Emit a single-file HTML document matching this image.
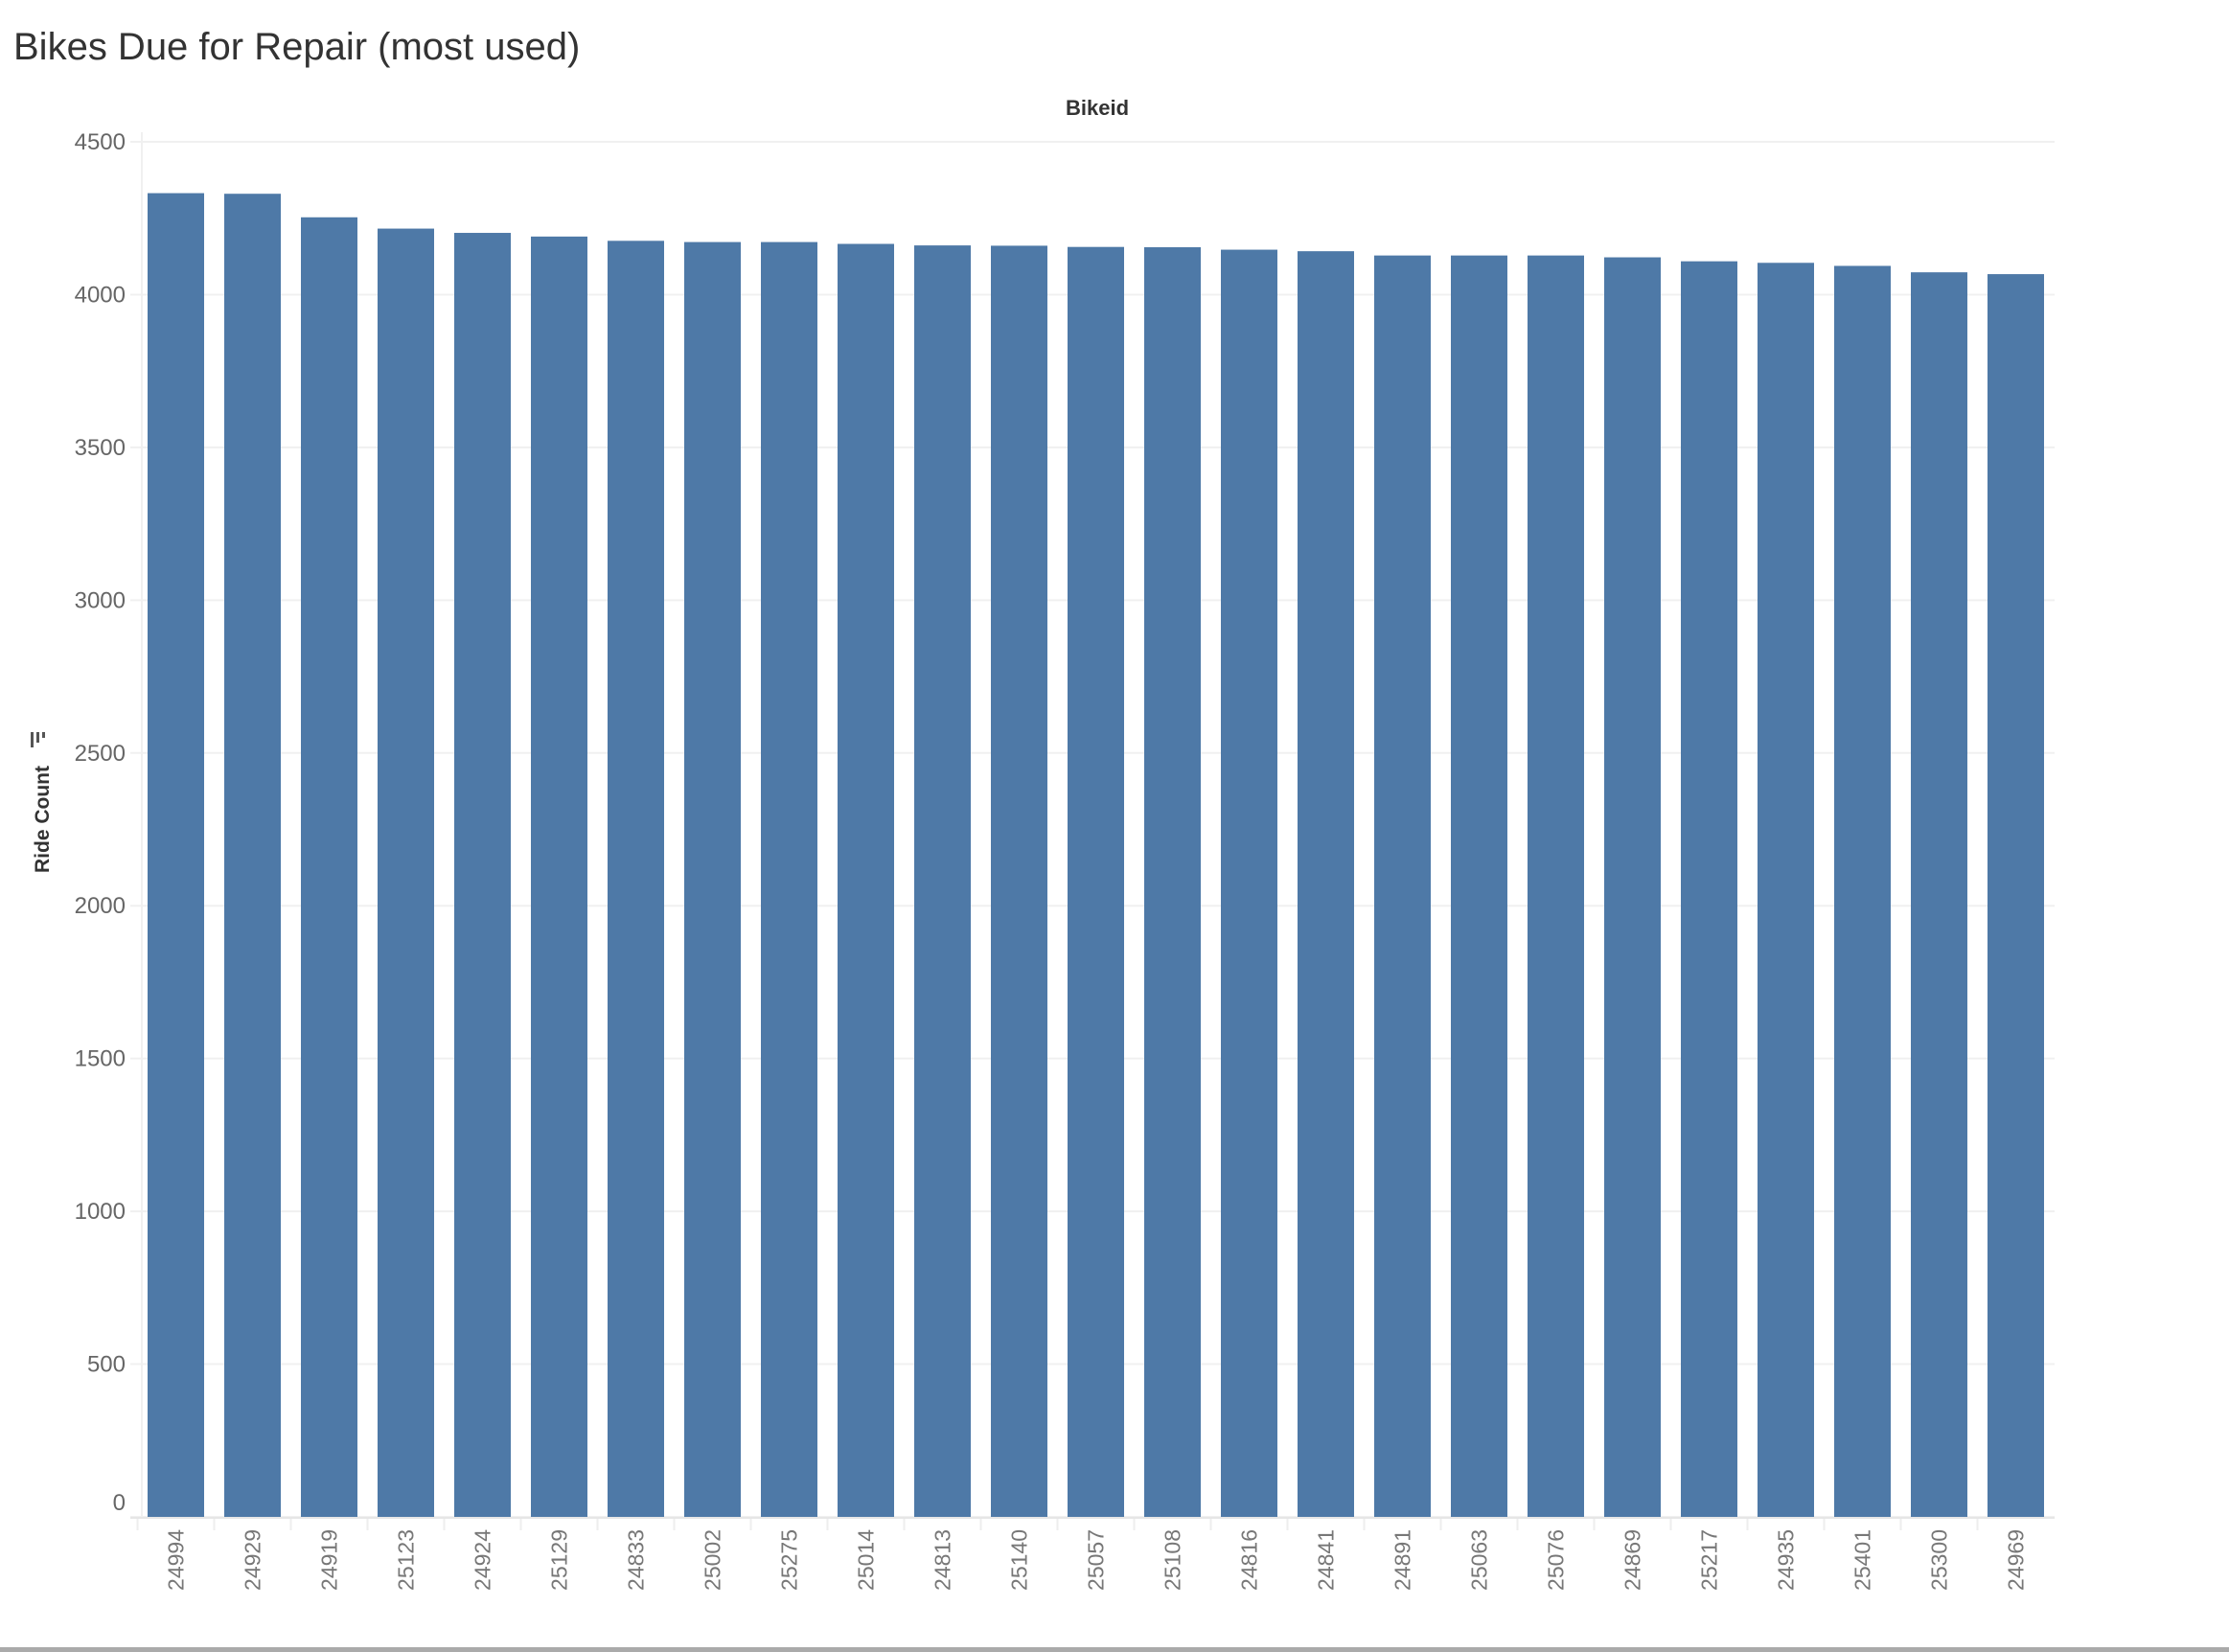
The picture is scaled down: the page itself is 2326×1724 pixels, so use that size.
<!DOCTYPE html>
<html><head><meta charset="utf-8"><style>
html,body{margin:0;padding:0;background:#fff;width:2326px;height:1724px;overflow:hidden;font-family:"Liberation Sans",sans-serif}
</style></head><body>
<svg width="2326" height="1724" xmlns="http://www.w3.org/2000/svg">
<text x="14" y="62" font-size="40" fill="#333">Bikes Due for Repair (most used)</text>
<text x="1145" y="120" font-size="22" font-weight="bold" fill="#333" text-anchor="middle">Bikeid</text>
<g id="grid"></g><g id="bars"></g><g id="xl"></g><g id="yl"></g>
<text transform="translate(51,855) rotate(-90)" font-size="21" font-weight="bold" fill="#333" text-anchor="middle">Ride Count</text>
<g fill="#555"><rect x="32" y="764" width="3" height="16"/><rect x="38" y="764" width="3" height="11"/><rect x="44" y="764" width="3" height="6"/></g>
<rect x="0" y="1719" width="2326" height="5" fill="#aaa"/>
</svg>
<script>
const categories=["24994","24929","24919","25123","24924","25129","24833","25002","25275","25014","24813","25140","25057","25108","24816","24841","24891","25063","25076","24869","25217","24935","25401","25300","24969"];
const rideCounts=[4332,4330,4253,4216,4202,4190,4176,4172,4172,4166,4161,4160,4156,4155,4147,4142,4128,4128,4128,4122,4109,4104,4094,4073,4067];
const yTicks=[0,500,1000,1500,2000,2500,3000,3500,4000,4500];
const NS="http://www.w3.org/2000/svg";
const L=148,R=2144,Y0=1583,Y45=148;
const y=v=>Y0-(v/4500)*(Y0-Y45);
const pitch=80,bw=59,x0=154;
const x=i=>x0+i*pitch;
function mk(t,a,p){const e=document.createElementNS(NS,t);for(const k in a)e.setAttribute(k,a[k]);p.appendChild(e);return e;}
const g=document.getElementById('grid'),b=document.getElementById('bars'),xl=document.getElementById('xl'),yl=document.getElementById('yl');
const ax=mk('line',{x1:L,y1:Y45-10,x2:L,y2:Y0,stroke:'#f0f0f0','stroke-width':2},g);


yTicks.forEach(v=>{
 const ln=mk('line',{x1:L-12,y1:y(v),x2:R,y2:y(v),stroke:'#f0f0f0','stroke-width':2},g);
 
 
 const ty=y(v)+8-(v===0?15:0);
 const t=mk('text',{x:131,y:ty,'font-size':24,fill:'#666','text-anchor':'end'},yl);
 t.textContent=v;
 
 
});
const bl=mk('line',{x1:L-12,y1:Y0+1,x2:R,y2:Y0+1,stroke:'#e6e6e6','stroke-width':2},g);


categories.forEach((c,i)=>{
 const r=mk('rect',{x:x(i),y:y(rideCounts[i]),width:bw,height:Y0-y(rideCounts[i]),fill:'#4e79a7'},b);
 
 
 const tk=mk('line',{x1:x(i)-10.5,y1:Y0+2,x2:x(i)-10.5,y2:Y0+14,stroke:'#eee','stroke-width':2},g);
 
 
 const cx=x(i)+bw/2+8;
 const t=mk('text',{transform:`translate(${cx},1596) rotate(-90)`,'font-size':23,fill:'#777','text-anchor':'end'},xl);
 t.textContent=c;
 
 
});
</script>
</body></html>
